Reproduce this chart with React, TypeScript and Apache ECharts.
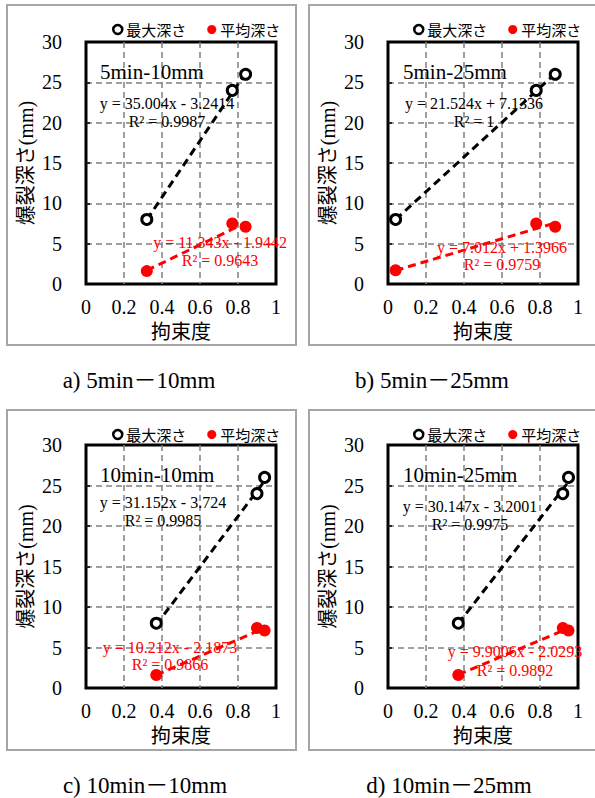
import React, { useEffect, useRef } from "react";
import * as echarts from "echarts";

const panelNames = ["5min-10mm", "5min-25mm", "10min-10mm", "10min-25mm"];
const captions = ["a) 5min－10mm", "b) 5min－25mm", "c) 10min－10mm", "d) 10min－25mm"];

const maxX = [
  [0.32, 0.77, 0.84],
  [0.04, 0.78, 0.88],
  [0.37, 0.9, 0.94],
  [0.37, 0.92, 0.95],
];
const maxY = [
  [8, 24, 26],
  [8, 24, 26],
  [8, 24, 26],
  [8, 24, 26],
];
const avgX = [
  [0.32, 0.77, 0.84],
  [0.04, 0.78, 0.88],
  [0.37, 0.9, 0.94],
  [0.37, 0.92, 0.95],
];
const avgY = [
  [1.6, 7.5, 7.1],
  [1.7, 7.5, 7.1],
  [1.6, 7.4, 7.1],
  [1.6, 7.4, 7.1],
];
// regression coefficients [slope, intercept]
const maxFit = [
  [35.004, -3.2414],
  [21.524, 7.1336],
  [31.152, -3.724],
  [30.147, -3.2001],
];
const avgFit = [
  [11.343, -1.9442],
  [7.012, 1.3966],
  [10.212, -2.1873],
  [9.9006, -2.0293],
];
const maxEq = ["y = 35.004x - 3.2414", "y = 21.524x + 7.1336", "y = 31.152x - 3.724", "y = 30.147x - 3.2001"];
const maxR2 = ["R² = 0.9987", "R² = 1", "R² = 0.9985", "R² = 0.9975"];
const avgEq = ["y = 11.343x - 1.9442", "y = 7.012x + 1.3966", "y = 10.212x - 2.1873", "y = 9.9006x - 2.0293"];
const avgR2 = ["R² = 0.9643", "R² = 0.9759", "R² = 0.9866", "R² = 0.9892"];

const xTicks = { min: 0, max: 1, interval: 0.2 };
const yTicks = { min: 0, max: 30, interval: 5 };

// layout
const plots = [
  { left: 86, top: 42, width: 190, height: 242 },
  { left: 388, top: 42, width: 190, height: 242 },
  { left: 86, top: 445, width: 190, height: 243 },
  { left: 388, top: 445, width: 190, height: 243 },
];
const frames = [
  { x: 7, y: 5, w: 289, h: 340 },
  { x: 309, y: 5, w: 290, h: 340 },
  { x: 7, y: 410, w: 289, h: 340 },
  { x: 309, y: 410, w: 290, h: 340 },
];
const captionPos = [
  { x: 139, y: 380 },
  { x: 432, y: 380 },
  { x: 145, y: 785 },
  { x: 449, y: 785 },
];
const nameLabelPos = [
  { x: 100, y: 72 },
  { x: 403, y: 72 },
  { x: 100, y: 475 },
  { x: 403, y: 475 },
];
const maxEqPos = [
  { x: 167, y: 103, r: 121 },
  { x: 474, y: 103, r: 121 },
  { x: 163, y: 502, r: 520 },
  { x: 470, y: 506, r: 524 },
];
const avgEqPos = [
  { x: 220, y: 242, r: 260 },
  { x: 502, y: 247, r: 264 },
  { x: 170, y: 647, r: 664 },
  { x: 515, y: 651, r: 670 },
];
const legendPos = [
  { left: 107, top: 17 },
  { left: 408, top: 17 },
  { left: 107, top: 422 },
  { left: 408, top: 422 },
];

const SERIF = "'Liberation Serif', 'Times New Roman', 'Noto Sans CJK JP'";
const CJK = "'Noto Sans CJK JP', sans-serif";

export default function App() {
  const ref = useRef<HTMLDivElement>(null);
  useEffect(() => {
    if (!ref.current) return;
    const chart = echarts.init(ref.current, undefined, { renderer: "svg" });

    const grid: any[] = [];
    const xAxis: any[] = [];
    const yAxis: any[] = [];
    const series: any[] = [];
    const legend: any[] = [];
    const graphic: any[] = [];

    const eqText = (x: number, y: number, text: string, fill: string) => ({
      type: "text",
      x,
      y,
      style: { text, fontFamily: SERIF, fontSize: 16, fill, align: "center", verticalAlign: "middle" },
      z: 10,
    });

    for (let i = 0; i < 4; i++) {
      const p = plots[i];
      grid.push({
        left: p.left,
        top: p.top,
        width: p.width,
        height: p.height,
        show: true,
        borderColor: "#000",
        borderWidth: 3,
        backgroundColor: "transparent",
        containLabel: false,
      });
      xAxis.push({
        type: "value",
        gridIndex: i,
        ...xTicks,
        name: "拘束度",
        nameLocation: "middle",
        nameGap: 36,
        nameTextStyle: { fontFamily: CJK, fontSize: 20, color: "#000", lineHeight: 20 },
        axisLine: { show: false },
        axisTick: { show: false },
        axisLabel: { fontFamily: SERIF, fontSize: 20, color: "#000", margin: 14, lineHeight: 17 },
        splitLine: {
          show: true,
          showMinLine: false,
          showMaxLine: false,
          lineStyle: { color: "#808080", type: [6, 4], width: 1.5 },
        },
      });
      yAxis.push({
        type: "value",
        gridIndex: i,
        ...yTicks,
        name: "爆裂深さ(mm)",
        nameLocation: "middle",
        nameGap: 50,
        nameTextStyle: { fontFamily: SERIF, fontSize: 20, color: "#000" },
        axisLine: { show: false },
        axisTick: { show: true, inside: true, length: 4, lineStyle: { color: "#000", width: 1.5 } },
        axisLabel: { fontFamily: SERIF, fontSize: 20, color: "#000", margin: 24 },
        splitLine: {
          show: true,
          showMinLine: false,
          showMaxLine: false,
          lineStyle: { color: "#808080", type: [6, 4], width: 1.5 },
        },
      });

      const mx = maxX[i];
      const ax = avgX[i];
      const mxMin = Math.min(...mx);
      const mxMax = Math.max(...mx);
      const axMin = Math.min(...ax);
      const axMax = Math.max(...ax);
      const [ms, mi] = maxFit[i];
      const [as, ai] = avgFit[i];

      series.push({
        type: "line",
        name: "maxTrend" + i,
        xAxisIndex: i,
        yAxisIndex: i,
        data: [
          [mxMin, ms * mxMin + mi],
          [mxMax, ms * mxMax + mi],
        ],
        showSymbol: false,
        symbol: "none",
        lineStyle: { color: "#000", width: 3, type: [8, 5] },
        z: 2,
      });
      series.push({
        type: "line",
        name: "avgTrend" + i,
        xAxisIndex: i,
        yAxisIndex: i,
        data: [
          [axMin, as * axMin + ai],
          [axMax, as * axMax + ai],
        ],
        showSymbol: false,
        symbol: "none",
        lineStyle: { color: "#ff0000", width: 3, type: [8, 5] },
        z: 2,
      });
      series.push({
        type: "scatter",
        name: "最大深さ",
        xAxisIndex: i,
        yAxisIndex: i,
        data: mx.map((x, k) => [x, maxY[i][k]]),
        symbol: "circle",
        symbolSize: 10,
        itemStyle: { color: "#fff", borderColor: "#000", borderWidth: 3, opacity: 1 },
        z: 3,
      });
      series.push({
        type: "scatter",
        name: "平均深さ",
        xAxisIndex: i,
        yAxisIndex: i,
        data: ax.map((x, k) => [x, avgY[i][k]]),
        symbol: "circle",
        symbolSize: 12,
        itemStyle: { color: "#ff0000", opacity: 1 },
        z: 3,
      });

      legend.push({
        left: legendPos[i].left,
        top: legendPos[i].top,
        itemWidth: 9,
        itemHeight: 9,
        itemGap: 21,
        textStyle: { fontFamily: CJK, fontSize: 15, color: "#000", padding: [0, 0, 0, -1] },
        data: [
          {
            name: "最大深さ",
            icon: "circle",
            itemStyle: { color: "#fff", borderColor: "#000", borderWidth: 2.5 },
          },
          { name: "平均深さ", icon: "circle", itemStyle: { color: "#ff0000", borderWidth: 0 } },
        ],
      });

      const f = frames[i];
      graphic.push({
        type: "rect",
        shape: { x: f.x, y: f.y, width: f.w, height: f.h },
        style: { fill: "none", stroke: "#a6a6a6", lineWidth: 2 },
        z: -1,
        silent: true,
      });
      graphic.push({
        type: "text",
        x: captionPos[i].x,
        y: captionPos[i].y,
        style: {
          text: captions[i],
          fontFamily: SERIF,
          fontSize: 23,
          fill: "#000",
          align: "center",
          verticalAlign: "middle",
        },
      });
      graphic.push({
        type: "text",
        x: nameLabelPos[i].x,
        y: nameLabelPos[i].y,
        style: {
          text: panelNames[i],
          fontFamily: SERIF,
          fontSize: 21,
          fill: "#000",
          align: "left",
          verticalAlign: "middle",
        },
        z: 10,
      });
      graphic.push(eqText(maxEqPos[i].x, maxEqPos[i].y, maxEq[i], "#000"));
      graphic.push(eqText(maxEqPos[i].x, maxEqPos[i].r, maxR2[i], "#000"));
      graphic.push(eqText(avgEqPos[i].x, avgEqPos[i].y, avgEq[i], "#ff0000"));
      graphic.push(eqText(avgEqPos[i].x, avgEqPos[i].r, avgR2[i], "#ff0000"));
    }

    chart.setOption({
      animation: false,
      backgroundColor: "#fff",
      grid,
      xAxis,
      yAxis,
      series,
      legend,
      graphic,
    });
    return () => chart.dispose();
  }, []);

  return <div ref={ref} style={{ width: 595, height: 798, position: "absolute", left: 0, top: 0 }} />;
}
